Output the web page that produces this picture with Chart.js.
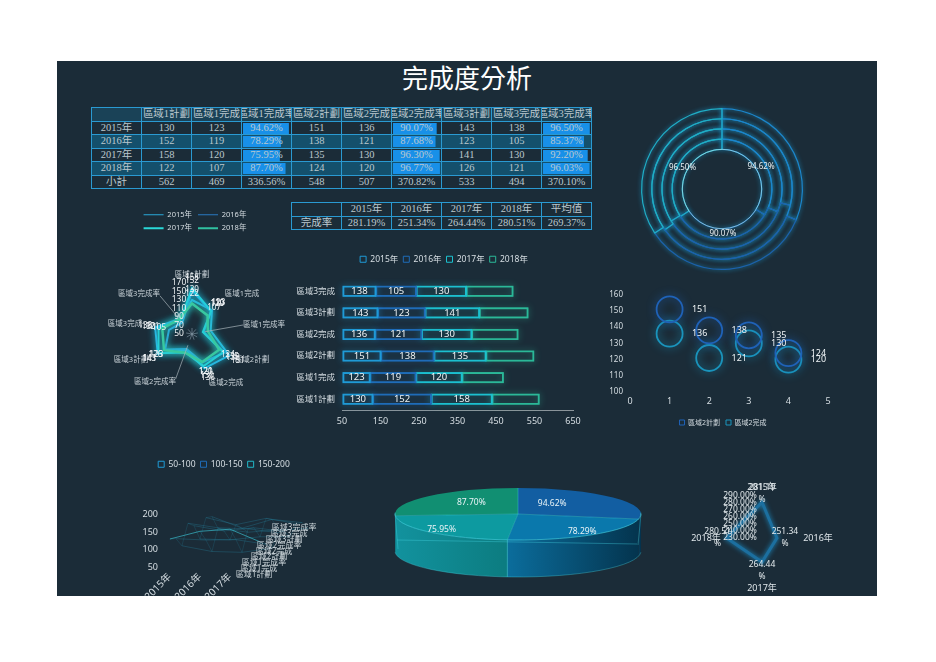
<!DOCTYPE html>
<html><head><meta charset="utf-8">
<script src="https://cdn.jsdelivr.net/npm/chart.js@4/dist/chart.umd.js"></script>
<style>
html,body{margin:0;padding:0;background:#fff;width:936px;height:662px;overflow:hidden}
#panel{position:absolute;left:57px;top:61px;width:820px;height:535px;background:#1b2c38;overflow:hidden}
#title{position:absolute;left:0;width:820px;top:-1px;text-align:center;color:#fff;font:26px/34px "Noto Sans CJK TC","Noto Sans CJK SC",sans-serif}
canvas{position:absolute;display:block}
table{position:absolute;border-collapse:collapse;table-layout:fixed;color:#bcc8ce;font:10.5px/12.5px "Liberation Serif","Noto Sans CJK TC",serif}
td{border:1px solid #2a9ad2;padding:0;height:13.5px;overflow:hidden;width:50px;box-sizing:border-box}
td div{display:flex;justify-content:center;white-space:nowrap;overflow:hidden;height:12.5px}
</style></head><body>
<div id="panel"><div id="title">完成度分析</div></div>
<script>
const years=['2015年','2016年','2017年','2018年'];
const metrics=['區域1計劃','區域1完成','區域1完成率','區域2計劃','區域2完成','區域2完成率','區域3計劃','區域3完成','區域3完成率'];
const r1Plan=[130,152,158,122];
const r1Done=[123,119,120,107];
const r1Rate=[94.62,78.29,75.95,87.70];
const r2Plan=[151,138,135,124];
const r2Done=[136,121,130,120];
const r2Rate=[90.07,87.68,96.30,96.77];
const r3Plan=[143,123,141,126];
const r3Done=[138,105,130,121];
const r3Rate=[96.50,85.37,92.20,96.03];
const subtotal=['562','469','336.56%','548','507','370.82%','533','494','370.10%'];
const totalRate=[281.19,251.34,264.44,280.51];
const averageRate=269.37;
const surfaceBands=['50-100','100-150','150-200'];
const columns=[r1Plan,r1Done,r1Rate,r2Plan,r2Done,r2Rate,r3Plan,r3Done,r3Rate];
const isRate=i=>i%3===2;

const C15='#1f9ad6',C16='#1f6cb8',C17='#1cc0cf',C18='#2bb898';
const yearColors=[C15,C16,C17,C18];
const TEXT='#d6dee3';
Chart.defaults.font.family='"Noto Sans","Noto Sans CJK TC",sans-serif';
Chart.defaults.font.size=9;
Chart.defaults.color=TEXT;
Chart.defaults.animation=false;
Chart.defaults.responsive=false;
Chart.defaults.plugins.tooltip.enabled=false;

const panel=document.getElementById('panel');
function mk(x,y,w,h){const c=document.createElement('canvas');c.width=w;c.height=h;c.style.left=(x-57)+'px';c.style.top=(y-61)+'px';c.style.width=w+'px';c.style.height=h+'px';panel.appendChild(c);return c.getContext('2d');}

/* ---------- tables ---------- */
function cell(tr,text,barPx,bg){const td=document.createElement('td');const d=document.createElement('div');d.textContent=text;td.appendChild(d);
 if(barPx){td.style.background=`linear-gradient(#1890e8,#1890e8) no-repeat 1px 1px / ${barPx}px 11px`+(bg?`,${bg}`:'');}
 tr.appendChild(td);return td;}
const t1=document.createElement('table');t1.style.left='34px';t1.style.top='46px';t1.style.width='501px';
const head=t1.insertRow();head.style.background='#1a4257';cell(head,'');metrics.forEach(m=>cell(head,m));
years.forEach((y,i)=>{const tr=t1.insertRow();const bg=i%2?'#14506c':'';if(bg)tr.style.background=bg;cell(tr,y);
 columns.forEach((col,j)=>{if(isRate(j))cell(tr,col[i].toFixed(2)+'%',col[i]*0.485,bg);else cell(tr,String(col[i]));});});
const st=t1.insertRow();cell(st,'小計');subtotal.forEach(v=>cell(st,v));
panel.appendChild(t1);
const t2=document.createElement('table');t2.style.left='234px';t2.style.top='141px';t2.style.width='300px';
const h2=t2.insertRow();cell(h2,'');years.forEach(y=>cell(h2,y));cell(h2,'平均值');
const r2=t2.insertRow();cell(r2,'完成率');totalRate.forEach(v=>cell(r2,v.toFixed(2)+'%'));cell(r2,averageRate.toFixed(2)+'%');
panel.appendChild(t2);

/* ---------- shared plugins ---------- */
const glow=(blur)=>({id:'glow',
 beforeDatasetDraw(ch,a){const ds=ch.data.datasets[a.index];const ctx=ch.ctx;ctx.save();ctx.shadowBlur=blur;ctx.shadowColor=ds.glowColor||ds.borderColor;},
 afterDatasetDraw(ch){ch.ctx.restore();}});
const legendGap=(gap,wrap,shift)=>({id:'legendGap',
 beforeLayout(ch){const l=ch.legend;if(!l||l._gapped)return;l._gapped=true;const f=l.fit;
  l.fit=function(){if(wrap)this.maxWidth=wrap;f.call(this);this.height+=gap;};},
 afterLayout(ch){const l=ch.legend;l.left=shift||0;l.right=ch.width+(shift||0);}});
function txt(ctx,s,x,y,font,color,align){ctx.save();ctx.font=font;ctx.fillStyle=color||TEXT;ctx.textAlign=align||'center';ctx.textBaseline='middle';ctx.fillText(s,x,y);ctx.restore();}
const F=(n)=>`${n}px "Noto Sans","Noto Sans CJK TC",sans-serif`;
function boxLegend(colors,names){return ()=>names.map((n,i)=>({text:n,fillStyle:'transparent',strokeStyle:colors[i],lineWidth:1,fontColor:TEXT,datasetIndex:i}));}

/* ---------- radar by metric ---------- */
const radarLabelOffsets=[[0,-59],[50,-40],[72,-9],[60,26],[34,49],[-37,48],[-61,26],[-67,-10],[-53,-40]];
const radarLeaders={2:[13,52],5:[12,48],8:[22,50]};
const RMIN=50;
new Chart(mk(91,205,200,205),{type:'radar',
 data:{labels:metrics,datasets:years.map((y,i)=>({label:y,data:columns.map(c=>Math.max(c[i],RMIN)),borderColor:['#2ab4e0','#2aa6dc','#24d0dc','#38c8a0'][i],glowColor:i==3?'#30c8a8':'#22c8e8',borderWidth:i==3?2.5:2,order:3-i,pointRadius:0,fill:false,clip:false}))},
 options:{layout:{padding:{left:50,right:48,bottom:24}},
  scales:{r:{min:RMIN,max:170,ticks:{stepSize:20,display:false},grid:{display:false},angleLines:{display:false},pointLabels:{display:false}}},
  plugins:{legend:{labels:{usePointStyle:true,pointStyleWidth:20,boxHeight:6,padding:6,font:{size:7.5},
     generateLabels:()=>years.map((y,i)=>({text:y,pointStyle:'line',strokeStyle:['#2aa8d8','#2a78c0','#2ad8d8','#30c0a0'][i],fillStyle:'transparent',lineWidth:i<2?1:2,fontColor:TEXT,datasetIndex:i}))}}}},
 plugins:[glow(7),legendGap(40,130,4),{id:'radarDeco',
  beforeDatasetsDraw(ch){const s=ch.scales.r,c=ch.ctx;c.save();c.strokeStyle='#8ca0ac';c.lineWidth=.6;
   metrics.forEach((m,i)=>{const p=s.getPointPosition(i,6);c.beginPath();c.moveTo(s.xCenter,s.yCenter);c.lineTo(p.x,p.y);c.stroke();});c.restore();},
  afterDraw(ch){const s=ch.scales.r,c=ch.ctx;
   c.save();c.strokeStyle='#a9b4ba';c.lineWidth=.7;
   Object.keys(radarLeaders).forEach(k=>{const [a,b]=radarLeaders[k];const p=s.getPointPosition(+k,a),q=s.getPointPosition(+k,b);c.beginPath();c.moveTo(p.x,p.y);c.lineTo(q.x,q.y);c.stroke();});c.restore();
   s.ticks.forEach(t=>txt(c,String(t.value),s.xCenter-13,s.yCenter-s.getDistanceFromCenterForValue(t.value),F(8.5),'#eef3f5'));
   metrics.forEach((m,i)=>txt(c,m,s.xCenter+radarLabelOffsets[i][0],s.yCenter+radarLabelOffsets[i][1],F(7.5),'#c9d2d8'));
   years.forEach((y,d)=>columns.forEach((col,i)=>{if(isRate(i))return;const p=s.getPointPosition(i,s.getDistanceFromCenterForValue(col[d])+10);txt(c,String(col[d]),p.x,p.y,F(8),'#f2f5f7');}));
  }}]});

/* ---------- stacked bars ---------- */
const barCats=metrics.filter((m,i)=>!isRate(i));
const barCols=columns.filter((c,i)=>!isRate(i));
const BMIN=50;
new Chart(mk(294,250,300,180),{type:'bar',
 data:{labels:barCats,datasets:years.map((y,i)=>({label:y,data:barCols.map(c=>c[i]),backgroundColor:'transparent',borderColor:yearColors[i],borderWidth:1,borderSkipped:false,barThickness:10,stack:'s',clip:false}))},
 options:{indexAxis:'y',layout:{padding:{right:21}},
  scales:{x:{stacked:true,min:BMIN,max:650,ticks:{stepSize:100,padding:6,font:{size:9}},grid:{display:false,drawTicks:false},border:{color:'#8a949a',width:1},afterFit:s=>{s.height=20;}},
   y:{stacked:true,reverse:true,grid:{display:false,drawTicks:false},border:{display:false},ticks:{padding:7,font:{size:8.5}},afterFit:s=>{s.width=48;}}},
  plugins:{legend:{labels:{boxWidth:6,boxHeight:6,padding:5,font:{size:8.5},generateLabels:boxLegend(yearColors,years)}}}},
 plugins:[legendGap(7),{id:'barDeco',
  afterDatasetsUpdate(ch){const x=ch.scales.x;ch.getDatasetMeta(0).data.forEach(e=>{e.base=x.getPixelForValue(BMIN)+1;});},
  beforeDatasetDraw(ch,a){const c=ch.ctx,col=ch.data.datasets[a.index].borderColor;c.save();c.shadowBlur=6;c.shadowColor=col;c.strokeStyle=col;c.lineWidth=1;
   a.meta.data.forEach(e=>{const l=Math.min(e.x,e.base),w=Math.abs(e.x-e.base),h=e.height;c.strokeRect(l,e.y-h/2,w,h);});c.restore();},
  afterDatasetsDraw(ch){const c=ch.ctx;[0,1,2].forEach(d=>ch.getDatasetMeta(d).data.forEach((e,i)=>{txt(c,String(barCols[i][d]),(e.x+e.base)/2,e.y,F(9.5),'#eef3f5');}));}}]});

/* ---------- rings ---------- */
const regionColors=['#1c86cc','#1c62ac','#20aec6'];
const ringOrder=[3,2,1,0];
new Chart(mk(632,99,180,180),{type:'doughnut',
 data:{labels:['區域1完成率','區域2完成率','區域3完成率'],datasets:ringOrder.map(i=>({label:years[i],data:[r1Rate[i],r2Rate[i],r3Rate[i]],backgroundColor:'transparent',borderColor:regionColors,glowColor:'#1c98cc',borderWidth:1.2,clip:false}))},
 options:{cutout:'49.4%',layout:{padding:9},plugins:{legend:{display:false}}},
 plugins:[glow(4),{id:'ringDeco',afterDatasetsDraw(ch){const c=ch.ctx,inner=ch.getDatasetMeta(3).data;
   c.save();c.strokeStyle='#a8e2ee';c.lineWidth=.7;c.beginPath();c.arc(inner[0].x,inner[0].y,inner[0].innerRadius,0,Math.PI*2);c.stroke();c.restore();
   inner.forEach((e,i)=>{const p=e.tooltipPosition();txt(c,[r1Rate[0],r2Rate[0],r3Rate[0]][i].toFixed(2)+'%',p.x,p.y,F(8),'#e8f0f3');});}}]});

/* ---------- circles ---------- */
const dotColors=['#1f62b8','#1a94bc'];
const dotNames=['區域2計劃','區域2完成'];
const dotXs=[1,2,3,4];
new Chart(mk(603,280,240,156),{type:'scatter',
 data:{datasets:[r2Plan,r2Done].map((v,i)=>({label:dotNames[i],data:dotXs.map((x,k)=>({x,y:v[k]})),borderColor:dotColors[i],backgroundColor:'transparent',pointRadius:13,pointBorderWidth:1.8,clip:false}))},
 options:{layout:{padding:{top:9,right:15}},
  scales:{x:{min:0,max:5,ticks:{stepSize:1,padding:4,font:{size:9}},grid:{display:false,drawTicks:false},border:{display:false},afterFit:s=>{s.height=21;}},
   y:{min:100,max:160,ticks:{stepSize:10,padding:7,font:{size:8}},grid:{display:false,drawTicks:false},border:{display:false},afterFit:s=>{s.width=27;}}},
  plugins:{legend:{position:'bottom',labels:{boxWidth:5,boxHeight:5,padding:6,font:{size:7},generateLabels:boxLegend(dotColors,dotNames)}}}},
 plugins:[glow(9),legendGap(0),{id:'dotLabels',afterDatasetsDraw(ch){const c=ch.ctx;[r2Plan,r2Done].forEach((v,d)=>ch.getDatasetMeta(d).data.forEach((e,i)=>txt(c,String(v[i]),e.x+30,e.y,F(9),'#eef3f5')));}}]});

/* ---------- pseudo-surface ---------- */
const bandColors=['#1f9ad6','#1f6cb8','#22b8c8'];
const depthX=.2,depthY=8;
const surfPoint=(i,s)=>({x:i+s*depthX,y:Math.max(columns[s][i],50)+s*depthY});
const surfSets=[];
columns.forEach((c,s)=>surfSets.push({data:years.map((y,i)=>surfPoint(i,s)),borderColor:s==0?'rgba(60,200,215,.8)':'rgba(40,140,170,.38)',borderWidth:.8,pointRadius:0,clip:false}));
years.forEach((y,i)=>surfSets.push({data:columns.map((c,s)=>surfPoint(i,s)),borderColor:'rgba(40,140,170,.3)',borderWidth:.7,pointRadius:0,clip:false}));
new Chart(mk(130,455,188,160),{type:'line',
 data:{datasets:surfSets},
 options:{scales:{x:{type:'linear',min:-.13,max:4.93,afterBuildTicks:s=>{s.ticks=[0,1,2].map(v=>({value:v}));},
    ticks:{autoSkip:false,maxRotation:45,minRotation:45,padding:4,font:{size:10},callback:v=>years[v]},grid:{display:false,drawTicks:false},border:{display:false},afterFit:s=>{s.height=48;}},
   y:{min:50,max:200,ticks:{stepSize:50,padding:8,font:{size:9}},grid:{display:false,drawTicks:false},border:{display:false},afterFit:s=>{s.width=36;}}},
  plugins:{legend:{labels:{boxWidth:6,boxHeight:6,padding:5,font:{size:8.5},generateLabels:boxLegend(bandColors,surfaceBands)}}}},
 plugins:[legendGap(36),{id:'surfLabels',afterDraw(ch){const x=ch.scales.x,y=ch.scales.y,c=ch.ctx;
   metrics.forEach((m,s)=>txt(c,m,x.getPixelForValue(2.8+s*.167),y.getPixelForValue(28+s*16.7),F(8),'#cdd6db'));}}]});

/* ---------- tilted pie ---------- */
const pieValues=[r1Rate[0],r1Rate[1],r1Rate[2],r1Rate[3]];
const pieColors=['#125ea2','#0a78ac','#0d9aa0','#118f72'];
const pieLabelRadius=[.36,.87,.87,.52];
const RX=123,RY=26,DEPTH=37;
const wallStops=[['#08405f','#042f48'],['#0b6d9c','#04344e'],['#12929e','#0c7c80'],['#0f8a90','#0f8a90']];
new Chart(mk(385,452,266,140),{type:'pie',
 data:{labels:years,datasets:[{data:pieValues,backgroundColor:pieColors,borderWidth:0,clip:false}]},
 options:{layout:{padding:{bottom:16}},plugins:{legend:{display:false}}},
 plugins:[{id:'tilt',
  beforeDatasetsDraw(ch){const c=ch.ctx,els=ch.getDatasetMeta(0).data,cx=els[0].x,cy=els[0].y;
   els.forEach((e,i)=>{for(const [lo,hi] of [[0,Math.PI],[2*Math.PI,3*Math.PI]]){const a=Math.max(e.startAngle,lo),b=Math.min(e.endAngle,hi);if(b<=a)continue;
     const x0=cx+RX*Math.cos(b),x1=cx+RX*Math.cos(a),g=c.createLinearGradient(x0,0,x1,0);g.addColorStop(0,wallStops[i][0]);g.addColorStop(1,wallStops[i][1]);
     c.beginPath();c.ellipse(cx,cy,RX,RY,0,a,b);c.ellipse(cx,cy+DEPTH,RX,RY,0,b,a,true);c.closePath();c.fillStyle=g;c.fill();}});},
  beforeDatasetDraw(ch,a){const c=ch.ctx,e=a.meta.data[0];c.save();c.translate(e.x,e.y);c.scale(RX/e.outerRadius,RY/e.outerRadius);c.translate(-e.x,-e.y);},
  afterDatasetDraw(ch){ch.ctx.restore();},
  afterDatasetsDraw(ch){const c=ch.ctx,els=ch.getDatasetMeta(0).data,cx=els[0].x,cy=els[0].y;
   c.save();c.strokeStyle='rgba(70,215,230,.75)';c.lineWidth=.8;
   c.beginPath();c.ellipse(cx,cy,RX,RY,0,-.05,Math.PI+.05);c.stroke();
   c.strokeStyle='rgba(70,215,230,.45)';
   c.beginPath();c.ellipse(cx,cy+DEPTH,RX,RY,0,.05,Math.PI-.05);c.stroke();
   c.beginPath();c.moveTo(cx-RX+2,cy+26);c.lineTo(cx+RX-4,cy+30);c.stroke();
   c.beginPath();c.moveTo(cx-RX,cy);c.lineTo(cx-RX+3,cy+DEPTH-2);c.moveTo(cx+RX,cy);c.lineTo(cx+RX-3,cy+DEPTH-6);c.stroke();
   els.forEach(e=>{c.beginPath();c.moveTo(cx,cy);c.lineTo(cx+RX*Math.cos(e.startAngle),cy+RY*Math.sin(e.startAngle));c.stroke();});
   const b=els[2].startAngle,bx=cx+RX*Math.cos(b),by=cy+RY*Math.sin(b);c.strokeStyle='rgba(70,215,230,.7)';c.beginPath();c.moveTo(bx,by);c.lineTo(bx,by+DEPTH);c.stroke();
   c.restore();
   els.forEach((e,i)=>{const m=(e.startAngle+e.endAngle)/2,k=pieLabelRadius[i];txt(c,pieValues[i].toFixed(2)+'%',cx+RX*k*Math.cos(m),cy+RY*(k<.6?.62:.86)*Math.sin(m),F(8.5),'#e8f3f6');});}}]});

/* ---------- total-rate radar ---------- */
const totalLabelDist=[51,56,50,56];
const totalValueOffsets=[[0,-15],[8,-6],[0,2],[-9,-6]];
new Chart(mk(680,470,165,140),{type:'radar',
 data:{labels:years,datasets:[{label:'完成率',data:totalRate,borderColor:'#1c6f9f',glowColor:'#1c8fc8',borderWidth:3,pointRadius:0,fill:false,clip:false}]},
 options:{layout:{padding:{left:40,right:41,top:26,bottom:30}},
  scales:{r:{min:230,max:290,ticks:{stepSize:10,display:false},grid:{display:false},angleLines:{display:false},pointLabels:{display:false}}},
  plugins:{legend:{display:false}}},
 plugins:[glow(5),{id:'totDeco',afterDraw(ch){const s=ch.scales.r,c=ch.ctx;
   s.ticks.forEach(t=>txt(c,t.value.toFixed(2)+'%',s.xCenter-22,s.yCenter-s.getDistanceFromCenterForValue(t.value),F(8.5),'#e2e9ec'));
   years.forEach((y,i)=>{const p=s.getPointPosition(i,totalLabelDist[i]);txt(c,y,p.x,p.y,F(9),'#dfe6ea');});
   totalRate.forEach((v,i)=>{const p=s.getPointPosition(i,s.getDistanceFromCenterForValue(v));const [dx,dy]=totalValueOffsets[i];
     txt(c,v.toFixed(2),p.x+dx,p.y+dy,F(8.5),'#e2e9ec');txt(c,'%',p.x+dx,p.y+dy+12,F(8.5),'#e2e9ec');});}}]});
</script>
</body></html>
